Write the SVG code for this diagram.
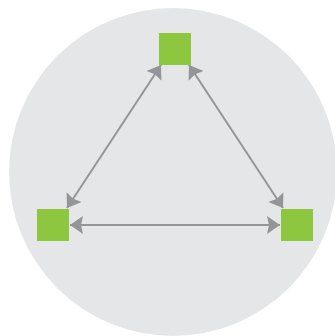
<svg xmlns="http://www.w3.org/2000/svg" width="335" height="336" viewBox="0 0 335 336">
<style>
.node{fill:#8dc63f}
.edge{stroke:#939598;stroke-width:2;fill:none;marker-start:url(#ah);marker-end:url(#ah)}
</style>
<defs>
<marker id="ah" viewBox="0 0 13 18" refX="13" refY="9" markerWidth="13" markerHeight="18" markerUnits="userSpaceOnUse" orient="auto-start-reverse">
<path d="M0,0 L13,9 L0,18 L2,9 Z" fill="#939598"/>
</marker>
</defs>
<circle cx="173" cy="172" r="164" fill="#e5e6e8"/>
<g id="connectors">
<line class="edge" x1="161" y1="65" x2="67" y2="208"/>
<line class="edge" x1="189" y1="65" x2="283" y2="208"/>
<line class="edge" x1="70" y1="225" x2="280" y2="225"/>
</g>
<g id="node-top"><rect class="node" x="159" y="33" width="32" height="32"/></g>
<g id="node-left"><rect class="node" x="37" y="209" width="32" height="32"/></g>
<g id="node-right"><rect class="node" x="281" y="209" width="32" height="32"/></g>
</svg>
